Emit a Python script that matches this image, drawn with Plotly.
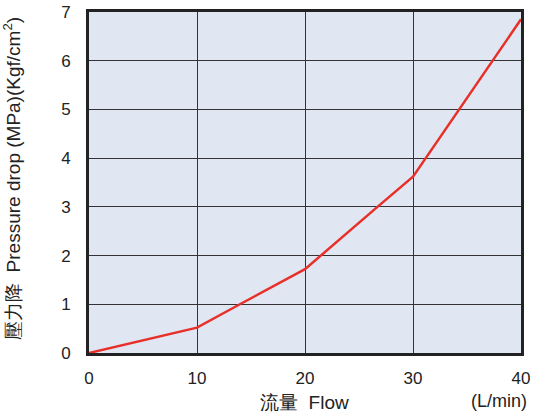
import plotly.graph_objects as go

flow = [0, 10, 13.8, 20, 26.6, 30, 40]
pressure = [0, 0.52, 0.98, 1.72, 2.98, 3.62, 6.85]
x_ticks = [0, 10, 20, 30, 40]
y_ticks = [0, 1, 2, 3, 4, 5, 6, 7]

fnt = "Liberation Sans, Arial, Helvetica, sans-serif"
ink = "#222"

fig = go.Figure()
fig.add_trace(go.Scatter(x=flow, y=pressure, mode="lines",
                         line=dict(color="#e8302a", width=2.5), showlegend=False))

fig.update_xaxes(range=[0, 40], tickvals=x_ticks, showgrid=True, gridcolor="#333", gridwidth=1,
                 showline=True, mirror=True, linecolor=ink, linewidth=3, zeroline=False,
                 ticks="", ticklabelstandoff=8, automargin=False,
                 tickfont=dict(size=17, color=ink))
fig.update_yaxes(range=[0, 7], tickvals=y_ticks, showgrid=True, gridcolor="#333", gridwidth=1,
                 showline=True, mirror=True, linecolor=ink, linewidth=3, zeroline=False,
                 ticks="", ticklabelstandoff=12, automargin=False,
                 tickfont=dict(size=17, color=ink))

# axis titles as annotations
fig.add_annotation(text="壓力降  Pressure drop (MPa)(Kgf/cm<sup>2</sup>)", textangle=-90,
                   x=-0.177, y=0.512, xref="paper", yref="paper", showarrow=False,
                   font=dict(size=19, color=ink), xanchor="center", yanchor="middle")
fig.add_annotation(text="流量  Flow", x=0.499, y=-0.145, xref="paper", yref="paper",
                   showarrow=False, font=dict(size=19, color=ink), yanchor="middle")
fig.add_annotation(text="(L/min)", x=1.018, y=-0.141, xref="paper", yref="paper",
                   showarrow=False, font=dict(size=18, color=ink), yanchor="middle", xanchor="right")

fig.update_layout(width=533, height=419, margin=dict(l=89, r=12, t=12, b=66),
                  plot_bgcolor="#e0e7f3", paper_bgcolor="white",
                  font=dict(family=fnt))

# drop the default 8px page margin so the figure sits at the window corner
fig.write_html("out.html", config={"displayModeBar": False},
               post_script="document.body.style.margin='0';")
